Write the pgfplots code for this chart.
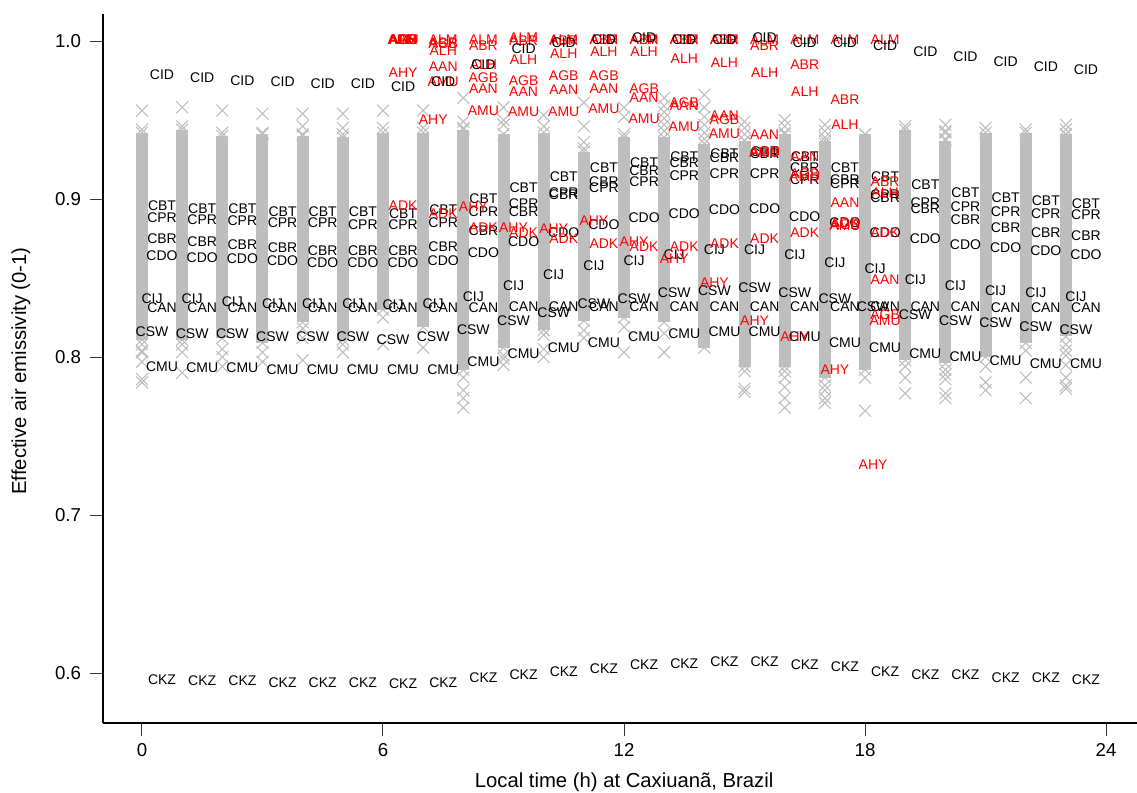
\documentclass[border=0pt]{standalone}
\usepackage{pgfplots}
\pgfplotsset{compat=1.18}
\usepackage{pgfplotstable}
\usepackage{fontspec}
\setmainfont{Liberation Sans}
\definecolor{rgray}{HTML}{BEBEBE}
\pgfplotstableread{
x y
0 .942
0 .811
0 nan
1 .944
1 .811
1 nan
2 .940
2 .812
2 nan
3 .941
3 .809
3 nan
4 .940
4 .822
4 nan
5 .939
5 .811
5 nan
6 .942
6 .830
6 nan
7 .942
7 .819
7 nan
8 .944
8 .792
8 nan
9 .941
9 .806
9 nan
10 .942
10 .817
10 nan
11 .930
11 .823
11 nan
12 .939
12 .825
12 nan
13 .939
13 .822
13 nan
14 .935
14 .806
14 nan
15 .937
15 .794
15 nan
16 .941
16 .794
16 nan
17 .937
17 .787
17 nan
18 .941
18 .792
18 nan
19 .944
19 .798
19 nan
20 .937
20 .796
20 nan
21 .942
21 .800
21 nan
22 .942
22 .809
22 nan
23 .941
23 .813
}\bands
\pgfplotstableread{
x y
0 .956
0 .944
0 .808
0 .804
0 .803
0 .797
0 .786
0 .784
1 .958
1 .946
1 .808
1 .803
1 .790
2 .956
2 .942
2 .805
2 .800
2 .794
3 .954
3 .942
3 .803
3 .797
4 .954
4 .946
4 .941
4 .818
4 .812
4 .798
5 .954
5 .945
5 .941
5 .808
5 .803
6 .956
6 .945
6 .825
6 .808
7 .956
7 .945
7 .806
8 .964
8 .949
8 .945
8 .787
8 .779
8 .774
8 .768
9 .958
9 .950
9 .947
9 .801
9 .799
9 .795
10 .953
10 .946
10 .814
10 .805
10 .800
11 .961
11 .946
11 .936
11 .932
11 .817
11 .812
12 .958
12 .952
12 .941
12 .819
12 .803
13 .964
13 .959
13 .955
13 .951
13 .947
13 .943
13 .815
13 .803
14 .966
14 .958
14 .952
14 .947
14 .942
14 .938
15 .949
15 .945
15 .941
15 .937
15 .791
15 .780
15 .778
16 .950
16 .946
16 .942
16 .791
16 .787
16 .781
16 .774
16 .768
17 .947
17 .943
17 .939
17 .935
17 .931
17 .782
17 .779
17 .774
17 .771
18 .941
18 .787
18 .766
19 .946
19 .794
19 .787
19 .777
20 .947
20 .943
20 .942
20 .938
20 .792
20 .789
20 .786
20 .777
20 .774
21 .945
21 .794
21 .784
21 .779
22 .944
22 .804
22 .787
22 .774
23 .947
23 .944
23 .941
23 .808
23 .804
23 .801
23 .795
23 .787
23 .782
23 .780
}\crosses
\pgfplotstableread{
x y l
0.5 .896 CBT
0.5 .888 CPR
0.5 .875 CBR
0.5 .864 CDO
0.25 .837 CIJ
0.5 .831 CAN
0.25 .816 CSW
0.5 .794 CMU
0.5 .596 CKZ
1.5 .894 CBT
1.5 .887 CPR
1.5 .873 CBR
1.5 .863 CDO
1.25 .837 CIJ
1.5 .831 CAN
1.25 .815 CSW
1.5 .793 CMU
1.5 .595 CKZ
2.5 .894 CBT
2.5 .886 CPR
2.5 .871 CBR
2.5 .862 CDO
2.25 .835 CIJ
2.5 .831 CAN
2.25 .815 CSW
2.5 .793 CMU
2.5 .595 CKZ
3.5 .892 CBT
3.5 .885 CPR
3.5 .869 CBR
3.5 .861 CDO
3.25 .834 CIJ
3.5 .831 CAN
3.25 .813 CSW
3.5 .792 CMU
3.5 .594 CKZ
4.5 .892 CBT
4.5 .885 CPR
4.5 .867 CBR
4.5 .860 CDO
4.25 .834 CIJ
4.5 .831 CAN
4.25 .813 CSW
4.5 .792 CMU
4.5 .594 CKZ
5.5 .892 CBT
5.5 .884 CPR
5.5 .867 CBR
5.5 .860 CDO
5.25 .834 CIJ
5.5 .831 CAN
5.25 .813 CSW
5.5 .792 CMU
5.5 .594 CKZ
6.5 .891 CBT
6.5 .884 CPR
6.5 .867 CBR
6.5 .860 CDO
6.25 .833 CIJ
6.5 .831 CAN
6.25 .811 CSW
6.5 .792 CMU
6.5 .593 CKZ
7.5 .893 CBT
7.5 .885 CPR
7.5 .870 CBR
7.5 .861 CDO
7.25 .834 CIJ
7.5 .831 CAN
7.25 .813 CSW
7.5 .792 CMU
7.5 .594 CKZ
8.5 .900 CBT
8.5 .892 CPR
8.5 .880 CBR
8.5 .866 CDO
8.25 .838 CIJ
8.5 .831 CAN
8.25 .817 CSW
8.5 .797 CMU
8.5 .597 CKZ
9.5 .907 CBT
9.5 .897 CPR
9.5 .892 CBR
9.5 .873 CDO
9.25 .845 CIJ
9.5 .832 CAN
9.25 .823 CSW
9.5 .802 CMU
9.5 .599 CKZ
10.5 .914 CBT
10.5 .904 CPR
10.5 .903 CBR
10.5 .879 CDO
10.25 .852 CIJ
10.5 .832 CAN
10.25 .828 CSW
10.5 .806 CMU
10.5 .601 CKZ
11.5 .920 CBT
11.5 .911 CBR
11.5 .907 CPR
11.5 .884 CDO
11.25 .858 CIJ
11.25 .834 CSW
11.5 .832 CAN
11.5 .809 CMU
11.5 .603 CKZ
12.5 .923 CBT
12.5 .918 CBR
12.5 .911 CPR
12.5 .888 CDO
12.25 .861 CIJ
12.25 .837 CSW
12.5 .832 CAN
12.5 .813 CMU
12.5 .605 CKZ
13.5 .927 CBT
13.5 .923 CBR
13.5 .915 CPR
13.5 .891 CDO
13.25 .865 CIJ
13.25 .841 CSW
13.5 .832 CAN
13.5 .815 CMU
13.5 .606 CKZ
14.5 .929 CBT
14.5 .926 CBR
14.5 .916 CPR
14.5 .893 CDO
14.25 .868 CIJ
14.25 .842 CSW
14.5 .832 CAN
14.5 .816 CMU
14.5 .607 CKZ
15.5 .930 CBT
15.5 .929 CBR
15.5 .916 CPR
15.5 .894 CDO
15.25 .868 CIJ
15.25 .844 CSW
15.5 .832 CAN
15.5 .816 CMU
15.5 .607 CKZ
16.5 .927 CBT
16.5 .920 CBR
16.5 .912 CPR
16.5 .889 CDO
16.25 .865 CIJ
16.25 .841 CSW
16.5 .832 CAN
16.5 .813 CMU
16.5 .605 CKZ
17.5 .920 CBT
17.5 .912 CBR
17.5 .910 CPR
17.5 .885 CDO
17.25 .860 CIJ
17.25 .837 CSW
17.5 .832 CAN
17.5 .809 CMU
17.5 .604 CKZ
18.5 .914 CBT
18.5 .903 CPR
18.5 .901 CBR
18.5 .879 CDO
18.25 .856 CIJ
18.2 .832 CSW
18.5 .832 CAN
18.5 .806 CMU
18.5 .601 CKZ
19.5 .909 CBT
19.5 .898 CPR
19.5 .894 CBR
19.5 .875 CDO
19.25 .849 CIJ
19.25 .827 CSW
19.5 .832 CAN
19.5 .802 CMU
19.5 .599 CKZ
20.5 .904 CBT
20.5 .895 CPR
20.5 .887 CBR
20.5 .871 CDO
20.25 .845 CIJ
20.25 .823 CSW
20.5 .832 CAN
20.5 .800 CMU
20.5 .599 CKZ
21.5 .901 CBT
21.5 .892 CPR
21.5 .882 CBR
21.5 .869 CDO
21.25 .842 CIJ
21.25 .822 CSW
21.5 .831 CAN
21.5 .798 CMU
21.5 .597 CKZ
22.5 .899 CBT
22.5 .891 CPR
22.5 .879 CBR
22.5 .867 CDO
22.25 .841 CIJ
22.25 .819 CSW
22.5 .831 CAN
22.5 .796 CMU
22.5 .597 CKZ
23.5 .897 CBT
23.5 .890 CPR
23.5 .877 CBR
23.5 .865 CDO
23.25 .838 CIJ
23.25 .817 CSW
23.5 .831 CAN
23.5 .796 CMU
23.5 .596 CKZ
}\blacklabels
\pgfplotstableread{
x y l
0.5 .979 CID
1.5 .977 CID
2.5 .975 CID
3.5 .974 CID
4.5 .973 CID
5.5 .973 CID
6.5 .971 CID
7.5 .974 CID
8.5 .985 CID
9.5 .995 CID
10.5 .999 CID
11.5 1.001 CID
12.5 1.002 CID
13.5 1.001 CID
14.5 1.001 CID
15.5 1.002 CID
16.5 .999 CID
17.5 .999 CID
18.5 .997 CID
19.5 .993 CID
20.5 .990 CID
21.5 .987 CID
22.5 .984 CID
23.5 .982 CID
}\cid
\pgfplotstableread{
x y l
6.5 1.001 ALM
6.5 1.001 ABR
6.5 1.001 ALH
6.5 1.001 AAN
6.5 1.001 AGB
6.5 1.001 AMU
6.5 .980 AHY
6.5 .896 ADK
7.5 1.001 ALM
7.5 .999 ABR
7.5 .998 AGB
7.5 .994 ALH
7.5 .984 AAN
7.5 .974 AMU
7.25 .950 AHY
7.5 .891 ADK
8.5 1.001 ALM
8.5 .997 ABR
8.5 .985 ALH
8.5 .977 AGB
8.5 .970 AAN
8.5 .956 AMU
8.25 .895 AHY
8.5 .882 ADK
9.5 1.002 ALM
9.5 1.000 ABR
9.5 .988 ALH
9.5 .975 AGB
9.5 .968 AAN
9.5 .955 AMU
9.25 .882 AHY
9.5 .879 ADK
10.5 1.001 ALM
10.5 1.000 ABR
10.5 .992 ALH
10.5 .978 AGB
10.5 .969 AAN
10.5 .955 AMU
10.25 .881 AHY
10.5 .875 ADK
11.5 1.001 ALM
11.5 1.001 ABR
11.5 .993 ALH
11.5 .978 AGB
11.5 .970 AAN
11.5 .957 AMU
11.25 .886 AHY
11.5 .872 ADK
12.5 1.001 ALM
12.5 1.001 ABR
12.5 .993 ALH
12.5 .970 AGB
12.5 .964 AAN
12.5 .951 AMU
12.25 .873 AHY
12.5 .870 ADK
13.5 1.001 ALM
13.5 1.001 ABR
13.5 .989 ALH
13.5 .961 AGB
13.5 .959 AAN
13.5 .946 AMU
13.5 .870 ADK
13.25 .862 AHY
14.5 1.001 ALM
14.5 1.001 ABR
14.5 .986 ALH
14.5 .953 AAN
14.5 .950 AGB
14.5 .941 AMU
14.5 .872 ADK
14.25 .847 AHY
15.5 1.001 ALM
15.5 .997 ABR
15.5 .980 ALH
15.5 .941 AAN
15.5 .930 AGB
15.5 .929 AMU
15.5 .875 ADK
15.25 .823 AHY
16.5 1.001 ALM
16.5 .985 ABR
16.5 .968 ALH
16.5 .927 AAN
16.5 .916 AGB
16.5 .914 AMU
16.5 .879 ADK
16.25 .813 AHY
17.5 1.001 ALM
17.5 .963 ABR
17.5 .947 ALH
17.5 .898 AAN
17.5 .885 ADK
17.5 .884 AGB
17.5 .883 AMU
17.25 .792 AHY
18.5 1.001 ALM
18.5 .911 ABR
18.5 .904 ALH
18.5 .879 ADK
18.5 .849 AAN
18.5 .827 AGB
18.5 .823 AMU
18.2 .732 AHY
}\redlabels
\begin{document}
\begin{tikzpicture}
\path[use as bounding box] (-77.25pt,-51.75pt) rectangle (775.5pt,542.25pt);
\begin{axis}[
  scale only axis, width=775.5pt, height=531.75pt,
  xmin=-0.97, xmax=24.77, ymin=0.5684, ymax=1.0171,
  axis x line=bottom, axis y line=left,
  axis line style={-,line width=0.9pt,black},
  tick style={line width=0.75pt,black!80},
  tick align=outside, major tick length=10pt,
  xtick={0,6,12,18,24}, ytick={0.6,0.7,0.8,0.9,1.0},
  /pgf/number format/assume math mode=true,
  yticklabel style={/pgf/number format/fixed,/pgf/number format/fixed zerofill,/pgf/number format/precision=1,xshift=-3pt},
  xticklabel style={yshift=-2pt},
  ticklabel style={font=\fontsize{14}{16}\selectfont},
  xlabel={Local time (h) at Caxiuanã, Brazil},
  ylabel={Effective air emissivity (0-1)},
  label style={font=\fontsize{15.2}{17}\selectfont},
  xlabel style={at={(axis description cs:0.504,-0.0832)},anchor=center},
  ylabel style={at={(axis description cs:-0.0793,0.4965)},anchor=center},
  unbounded coords=jump, clip=false,
  every node near coord/.append style={anchor=center,inner sep=0pt,outer sep=0pt,font=\fontsize{10.5}{12}\selectfont},
]
\addplot[rgray,line width=9pt,line cap=butt,no marks] table[x=x,y=y] {\bands};
\addplot[rgray,only marks,mark=x,mark size=6.3pt,mark options={line width=0.8pt,rgray}] table[x=x,y=y] {\bands};
\addplot[rgray,only marks,mark=x,mark size=6.3pt,mark options={line width=0.8pt,rgray}] table[x=x,y=y] {\crosses};
\addplot[only marks,mark=none,black,nodes near coords,point meta=explicit symbolic,
  every node near coord/.append style={text=black}] table[x=x,y=y,meta=l] {\blacklabels};
\addplot[only marks,mark=none,red,nodes near coords,point meta=explicit symbolic,
  every node near coord/.append style={text=red}] table[x=x,y=y,meta=l] {\redlabels};
\addplot[only marks,mark=none,black,nodes near coords,point meta=explicit symbolic,
  every node near coord/.append style={text=black}] table[x=x,y=y,meta=l] {\cid};
\end{axis}
\end{tikzpicture}
\end{document}
